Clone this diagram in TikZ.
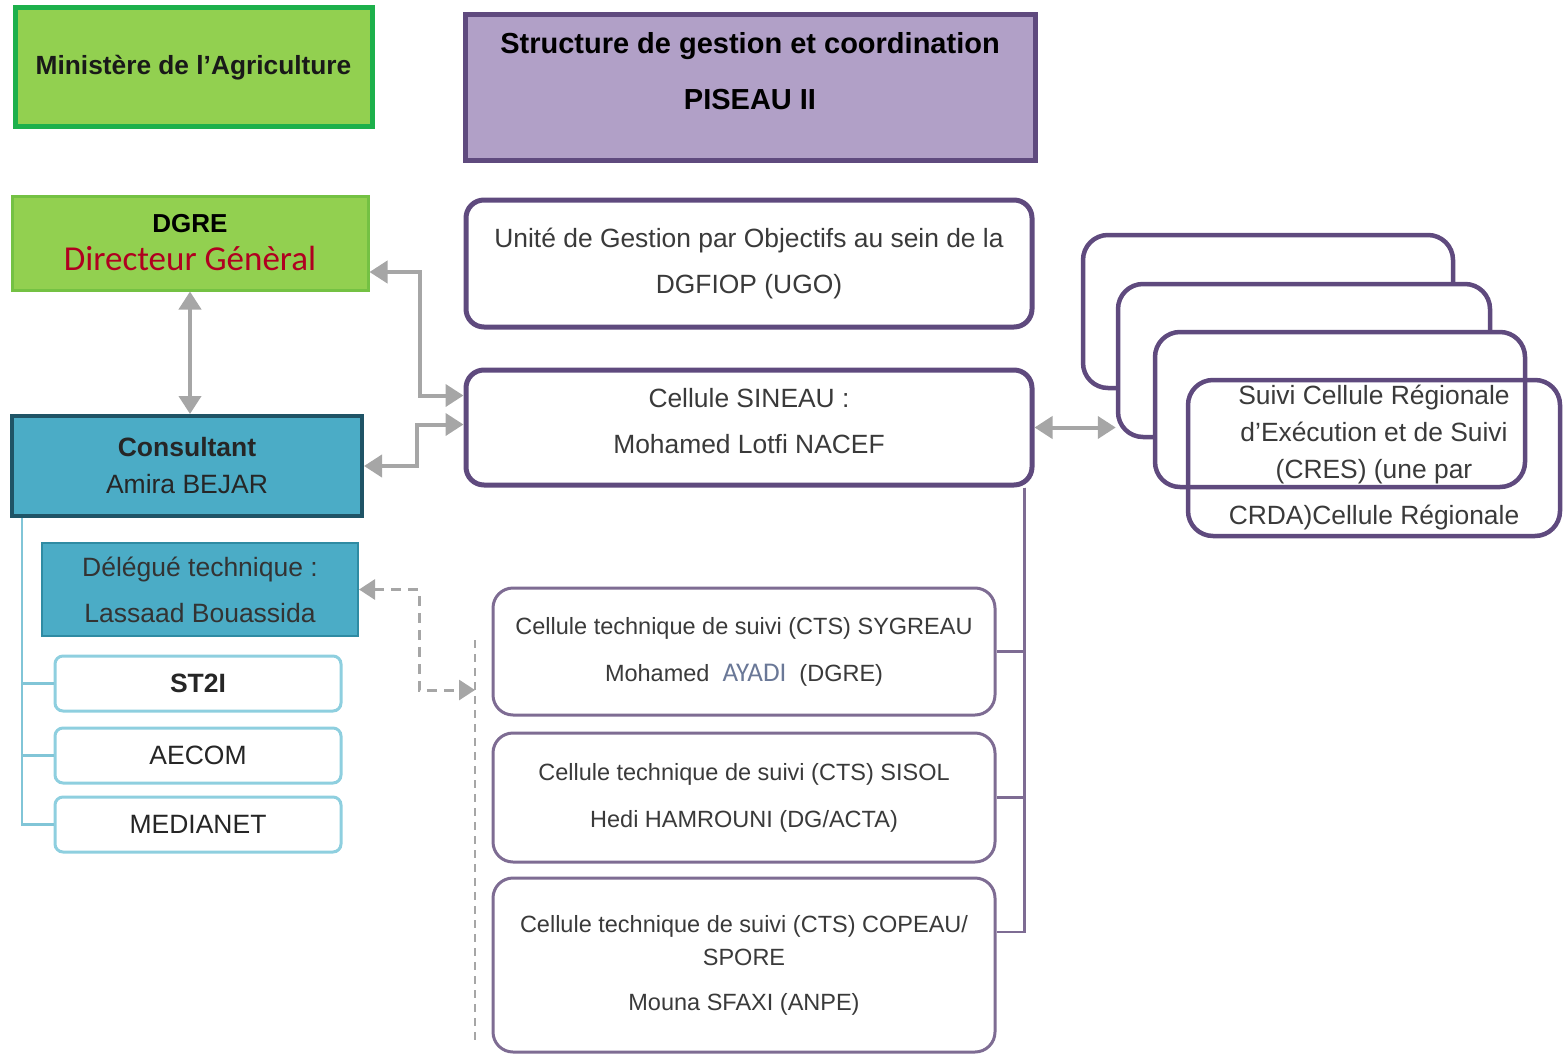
\documentclass[tikz,border=0pt]{standalone}
\usepackage{fontspec}
\setmainfont{Liberation Sans}
\newfontfamily\calfont{Carlito}
\usetikzlibrary{arrows.meta}
\definecolor{vert}{HTML}{92D050}
\definecolor{vertfonce}{HTML}{1DB04B}
\definecolor{vertclair}{HTML}{74C143}
\definecolor{lavande}{HTML}{B1A0C7}
\definecolor{violet}{HTML}{5F4A7E}
\definecolor{violetclair}{HTML}{7E6C93}
\definecolor{bleu}{HTML}{4BACC6}
\definecolor{bleufonce}{HTML}{1F5466}
\definecolor{bleumoyen}{HTML}{2F8BA3}
\definecolor{bleuclair}{HTML}{8ECFDF}
\definecolor{gris}{HTML}{A6A6A6}
\definecolor{texte}{HTML}{3A3A3A}
\definecolor{rouge}{HTML}{B00020}
\definecolor{ardoise}{HTML}{6A7897}
\tikzset{
 greenbox/.style={draw=vertfonce, fill=vert, line width=5pt},
 titlebox/.style={draw=violet, fill=lavande, line width=5pt},
 tealbox/.style={fill=bleu, align=center},
 subbox/.style={draw=bleuclair, fill=white, line width=3pt, rounded corners=8pt,
   minimum width=286pt, minimum height=55pt, text=black!85,
   font=\fontsize{26.5}{30}\selectfont},
 unitbox/.style={draw=violet, fill=white, line width=5pt, rounded corners=18pt,
   minimum width=566pt, align=center, text=texte,
   font=\fontsize{26.4}{46}\selectfont},
 ctsbox/.style={draw=violetclair, fill=white, line width=3pt, rounded corners=20pt,
   minimum width=502pt, align=center, text=texte,
   font=\fontsize{23.5}{47}\selectfont},
 regbox/.style={draw=violet, line width=4.5pt, rounded corners=25pt,
   inner sep=1pt, align=center, text=texte},
 garrow/.style={draw=gris, line width=4pt,
   {Triangle[length=18pt,width=22pt]}-{Triangle[length=18pt,width=22pt]}},
 gdash/.style={draw=gris, line width=3pt, dash pattern=on 10pt off 7pt,
   {Triangle[length=16pt,width=20pt]}-{Triangle[length=16pt,width=20pt]}},
 tree/.style={line width=2.5pt},
}

\begin{document}
\begin{tikzpicture}[x=1pt,y=-1pt]
  \useasboundingbox (0,0) rectangle (1568,1054);

  \node[greenbox, minimum width=357pt, minimum height=119pt, text=black!90,
    font=\fontsize{26.3}{30}\selectfont\bfseries] (min) at (193.5,67.5)
    {Ministère de l’Agriculture};
  \node[titlebox, minimum width=570pt, minimum height=145pt, align=center,
    text depth=34pt, font=\fontsize{29}{56}\selectfont\bfseries] (piseau) at (750,87.5)
    {Structure de gestion et coordination\\PISEAU II};

  \node[greenbox, draw=vertclair, line width=3pt, minimum width=356pt,
    minimum height=94pt, align=center, font=\fontsize{26}{38}\selectfont] (dgre) at (190,243)
    {\bfseries DGRE\\{\calfont\fontsize{35}{38}\selectfont\color{rouge}Directeur Génèral}};
  \node[tealbox, draw=bleufonce, line width=4pt, minimum width=350pt,
    minimum height=100pt, text=black!85, font=\fontsize{26.5}{37}\selectfont] (consultant) at (187,466)
    {\bfseries Consultant\\Amira BEJAR};
  \node[tealbox, draw=bleumoyen, line width=2pt, minimum width=316pt,
    minimum height=93pt, text=black!80, font=\fontsize{26.5}{46}\selectfont] (delegue) at (200,589.5)
    {Délégué technique :\\Lassaad Bouassida};
  \foreach \n/\t/\y in {st2i/\bfseries ST2I/683.5, aecom/AECOM/755.5, medianet/MEDIANET/824.5}
    \node[subbox] (\n) at (198,\y) {\t};

  \node[unitbox, minimum height=127pt] (ugo) at (749,263.5)
    {Unité de Gestion par Objectifs au sein de la\\DGFIOP (UGO)};
  \node[unitbox, minimum height=115pt, text depth=14pt] (sineau) at (749,427.5)
    {Cellule SINEAU :\\Mohamed Lotfi NACEF};

  \node[ctsbox, minimum height=127pt] (cts1) at (744,651.5)
    {Cellule technique de suivi (CTS) SYGREAU\\Mohamed \ {\calfont\fontsize{27}{47}\selectfont\color{ardoise}AYADI}\ \ (DGRE)};
  \node[ctsbox, minimum height=129pt] (cts2) at (744,797.5)
    {Cellule technique de suivi (CTS) SISOL\\Hedi HAMROUNI (DG/ACTA)};
  \node[ctsbox, minimum height=174pt, font=\fontsize{23.5}{33}\selectfont] (cts3) at (744,965)
    {Cellule technique de suivi (CTS) COPEAU/\\SPORE\\[12pt]Mouna SFAXI (ANPE)};

  \foreach \n/\x/\y/\w/\h in {rega/1268/311.5/370/153, regb/1304/360.5/372/153, regc/1340/409.5/370/155}
    \node[regbox, fill=white, minimum width=\w pt, minimum height=\h pt] (\n) at (\x,\y) {};
  \node[regbox, minimum width=372pt, minimum height=156pt,
    font=\fontsize{26.4}{37}\selectfont] (regd) at (1374,458)
    {Suivi Cellule Régionale\\d’Exécution et de Suivi\\(CRES) (une par\\[9pt]CRDA)Cellule Régionale};

  % liaisons
  \draw[garrow] (dgre.south) -- (dgre.south |- consultant.north);
  \draw[garrow] ([yshift=-29pt]dgre.east) -- ++(50,0) |- ([yshift=32pt]sineau.west);
  \draw[garrow] (consultant.east) -- ++(53,0) |- ([yshift=3pt]sineau.west);
  \draw[garrow] (sineau.east) -- (sineau.east -| regb.west);
  \coordinate (dtop) at (475,640);
  \coordinate (dbot) at (475,1040);
  \coordinate (dmid) at (475,690);
  \draw[gdash] (delegue.east) -- ++(60,0) |- (dmid);
  \draw[gris, line width=2pt, dash pattern=on 8pt off 6pt] (dtop) -- (dbot);

  \foreach \n in {st2i, aecom, medianet}
    \draw[tree, draw=bleu!70] ([xshift=12pt]consultant.south west) |- (\n.west);
  \draw[tree, draw=violetclair] ([xshift=-10pt]sineau.south east) |- (cts1.east);
  \draw[tree, draw=violetclair] ([xshift=-10pt]sineau.south east) |- (cts2.east);
  \draw[tree, draw=violetclair] ([xshift=-10pt]sineau.south east) |- ([yshift=33pt]cts3.east);
\end{tikzpicture}
\end{document}
